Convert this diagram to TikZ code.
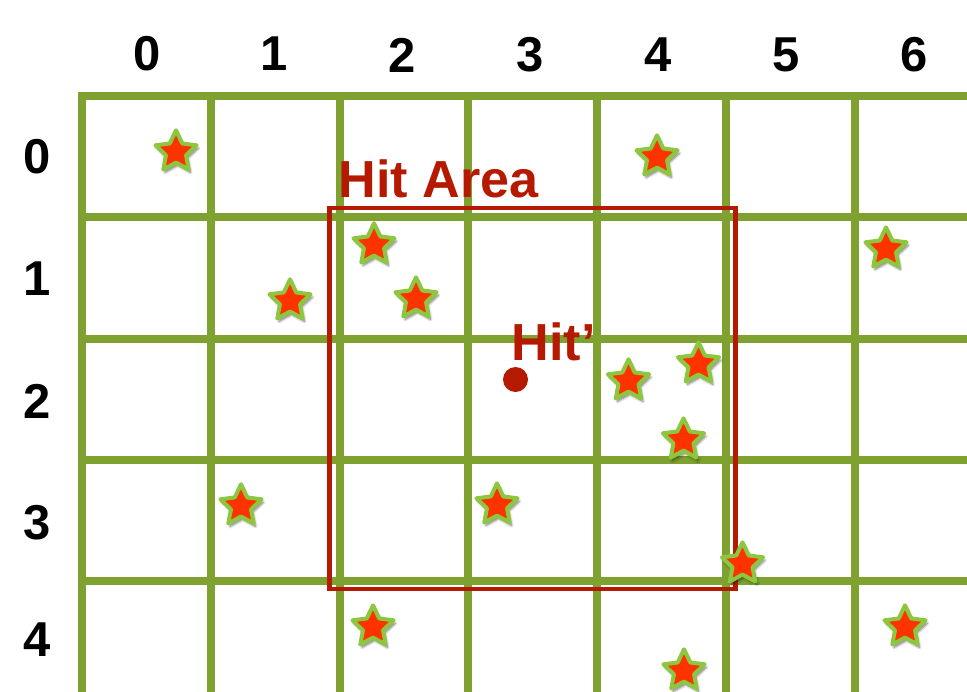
\documentclass[tikz,border=0pt]{standalone}
\usepackage{fontspec}
\setmainfont{Liberation Sans}
\usepackage{xcolor}
\usepackage{tikz}
\usetikzlibrary{shapes.geometric,shadows.blur}

\definecolor{gridgreen}{HTML}{7EA12F}
\definecolor{stargreen}{HTML}{8DC63F}
\definecolor{starred}{HTML}{FF3300}
\definecolor{hitred}{HTML}{B51A00}

\begin{document}
\begin{tikzpicture}[
  x=0.03cm, y=-0.03cm,
  every node/.style={font=\fontsize{41.8}{44}\selectfont\bfseries, inner sep=0pt},
  gridline/.style={draw=gridgreen, line width=0.24cm},
  hitbox/.style={draw=hitred, line width=0.135cm},
  starnode/.style={star, star points=5, star point ratio=2.05, minimum size=1.3cm,
    fill=starred, draw=stargreen, line width=0.12cm, line join=round,
    blur shadow={shadow xshift=1.5pt, shadow yshift=-2.5pt, shadow blur steps=6, shadow opacity=55}},
  hitlabel/.style={text=hitred, anchor=base west, font=\fontsize{44.5}{46}\selectfont\bfseries}
]
  \useasboundingbox (0,0) rectangle (967,692);

  \draw[gridline] (82,92) -- (82,692);
  \draw[gridline] (210.75,92) -- (210.75,692);
  \draw[gridline] (339.5,92) -- (339.5,692);
  \draw[gridline] (468.25,92) -- (468.25,692);
  \draw[gridline] (597,92) -- (597,692);
  \draw[gridline] (725.75,92) -- (725.75,692);
  \draw[gridline] (854.5,92) -- (854.5,692);
  \draw[gridline] (78,96) -- (967,96);
  \draw[gridline] (78,217.25) -- (967,217.25);
  \draw[gridline] (78,338.5) -- (967,338.5);
  \draw[gridline] (78,459.75) -- (967,459.75);
  \draw[gridline] (78,581) -- (967,581);

  \node (col0) at (147,54) {0};
  \node (col1) at (274,54) {1};
  \node (col2) at (402,55) {2};
  \node (col3) at (530,55) {3};
  \node (col4) at (658,55) {4};
  \node (col5) at (786,55) {5};
  \node (col6) at (914,55) {6};

  \node (row0) at (37,157) {0};
  \node (row1) at (37,279) {1};
  \node (row2) at (37,401) {2};
  \node (row3) at (37,523) {3};
  \node (row4) at (37,640) {4};

  \draw[hitbox] (329.5,208) rectangle (735.5,589);
  \node[hitlabel] (area) at (338.5,197) {Hit Area};
  \node[hitlabel] (hitname) at (511.5,360) {Hit’};
  \node[circle, fill=hitred, minimum size=0.75cm] (hit) at (515.5,379.5) {};

  \node[starnode] (s1) at (176,152) {};
  \node[starnode] (s2) at (657,157) {};
  \node[starnode] (s3) at (374,245) {};
  \node[starnode] (s4) at (886,249) {};
  \node[starnode] (s5) at (290,301) {};
  \node[starnode] (s6) at (416,299) {};
  \node[starnode] (s7) at (698.5,364) {};
  \node[starnode] (s8) at (628.5,381) {};
  \node[starnode] (s9) at (683.5,440) {};
  \node[starnode] (s10) at (241,506) {};
  \node[starnode] (s11) at (497,505) {};
  \node[starnode] (s12) at (742.5,564) {};
  \node[starnode] (s13) at (373,627) {};
  \node[starnode] (s14) at (905,627) {};
  \node[starnode] (s15) at (684,671) {};
\end{tikzpicture}
\end{document}
